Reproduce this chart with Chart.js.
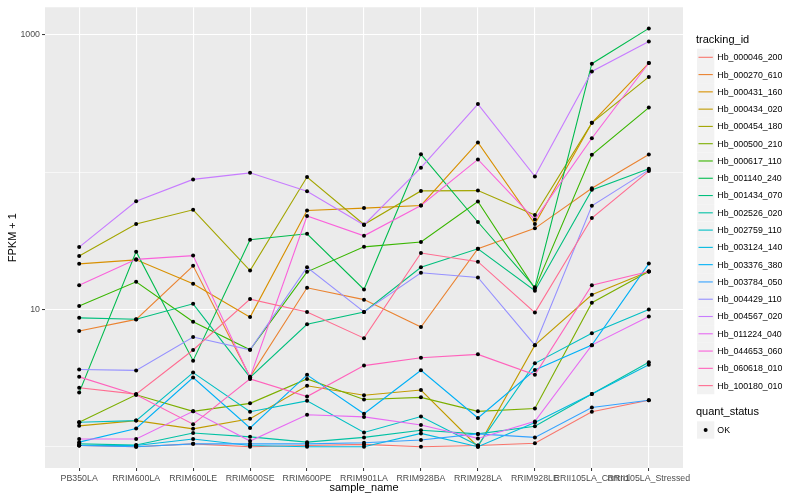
<!DOCTYPE html>
<html>
<head>
<meta charset="utf-8">
<title>FPKM by sample</title>
<script src="https://cdn.jsdelivr.net/npm/chart.js@4.4.1/dist/chart.umd.min.js"></script>
<style>
  html, body { margin: 0; padding: 0; background: #fff; }
  #chart { display: block; }
</style>
</head>
<body>
<canvas id="chart" width="800" height="500"></canvas>
<script>
// Samples on the x axis
const categories = ['PB350LA', 'RRIM600LA', 'RRIM600LE', 'RRIM600SE', 'RRIM600PE', 'RRIM901LA',
    'RRIM928BA', 'RRIM928LA', 'RRIM928LE', 'RRII105LA_Control', 'RRII105LA_Stressed'];

const trackingIds = ['Hb_000046_200', 'Hb_000270_610', 'Hb_000431_160', 'Hb_000434_020', 'Hb_000454_180',
    'Hb_000500_210', 'Hb_000617_110', 'Hb_001140_240', 'Hb_001434_070', 'Hb_002526_020',
    'Hb_002759_110', 'Hb_003124_140', 'Hb_003376_380', 'Hb_003784_050', 'Hb_004429_110',
    'Hb_004567_020', 'Hb_011224_040', 'Hb_044653_060', 'Hb_060618_010', 'Hb_100180_010'];

// FPKM + 1 per gene, one value per sample
const hb000046_200 = [1.02, 1.0, 1.05, 1.0, 1.02, 1.04, 1.0, 1.02, 1.06, 1.8, 2.18];
const hb000270_610 = [6.97, 8.47, 20.8, 3.23, 14.4, 11.8, 7.45, 27.7, 39, 76.4, 134.5];
const hb000431_160 = [21.5, 23, 15.4, 8.8, 52.7, 54.8, 57.3, 165, 42, 229, 625];
const hb000434_020 = [1.42, 1.55, 1.35, 1.6, 2.78, 2.37, 2.59, 1.0, 5.5, 12.8, 18.9];
const hb000454_180 = [24.5, 42, 53.3, 19.2, 92.3, 41.6, 73.1, 73.5, 48.8, 229, 495];
const hb000500_210 = [1.51, 2.39, 1.81, 2.07, 3.12, 2.21, 2.29, 1.81, 1.9, 11.2, 18.9];
const hb000617_110 = [10.6, 15.9, 8.15, 5.08, 18.8, 28.6, 31, 61.2, 14.2, 134, 296];
const hb001140_240 = [2.48, 26.4, 4.24, 32.2, 35.6, 14, 135, 43.4, 14.5, 618, 1117];
const hb001434_070 = [8.69, 8.5, 11.0, 3.2, 7.8, 9.6, 20.3, 27.7, 13.7, 74.4, 106];
const hb002526_020 = [1.05, 1.03, 1.26, 1.18, 1.08, 1.17, 1.32, 1.24, 1.41, 2.42, 4.12];
const hb002759_110 = [1.51, 1.55, 3.47, 1.8, 2.16, 1.27, 1.66, 1.02, 4.05, 6.71, 10];
const hb003124_140 = [1.02, 1.02, 1.14, 1.02, 1.0, 1.0, 1.25, 1.0, 1.5, 2.42, 3.95];
const hb003376_380 = [1.08, 1.36, 3.19, 1.37, 3.34, 1.74, 3.61, 1.62, 3.62, 5.5, 21.6];
const hb003784_050 = [1.02, 1.0, 1.05, 1.05, 1.05, 1.07, 1.12, 1.24, 1.17, 1.93, 2.18];
const hb004429_110 = [3.65, 3.6, 6.3, 5.08, 20.3, 9.6, 18.5, 17.1, 5.5, 57, 104];
const hb004567_020 = [28.5, 61.5, 88.7, 99, 72.6, 41.3, 108, 314, 93.3, 543, 895];
const hb011224_040 = [1.14, 1.14, 1.81, 1.1, 1.71, 1.65, 1.44, 1.15, 1.53, 5.5, 8.9];
const hb044653_060 = [15, 23.2, 24.7, 3.2, 48, 34.4, 57.3, 124, 45.2, 177, 625];
const hb060618_010 = [3.23, 2.39, 1.46, 3.12, 2.32, 3.9, 4.45, 4.71, 3.34, 15, 18.9];
const hb100180_010 = [2.69, 2.42, 5.07, 11.9, 9.6, 6.18, 25.8, 22.3, 9.5, 46.4, 102];

const seriesValues = [hb000046_200, hb000270_610, hb000431_160, hb000434_020, hb000454_180,
    hb000500_210, hb000617_110, hb001140_240, hb001434_070, hb002526_020,
    hb002759_110, hb003124_140, hb003376_380, hb003784_050, hb004429_110,
    hb004567_020, hb011224_040, hb044653_060, hb060618_010, hb100180_010];

// y axis: where grid lines go, and which of them get a label
const yTicks = [1, 10, 100, 1000];
const yLabeled = [10, 1000];

// default ggplot hue palette for 20 groups
const palette = ['#F8766D', '#EA8331', '#D89000', '#C09B00', '#A3A500', '#7CAE00', '#39B600', '#00BB4E',
    '#00BF7D', '#00C1A3', '#00BFC4', '#00BAE0', '#00B0F6', '#35A2FF', '#9590FF', '#C77CFF',
    '#E76BF3', '#FA62DB', '#FF62BC', '#FF6C91'];

const FONT = '"Liberation Sans", Arial, sans-serif';
const PANEL_BG = '#EBEBEB';

const datasets = trackingIds.map((id, i) => ({
    label: id,
    data: seriesValues[i].map((v, j) => ({ x: j, y: v })),
    borderColor: palette[i],
    backgroundColor: palette[i],
    borderWidth: 1.1,
    pointRadius: 0,
    tension: 0,
    fill: false,
    order: trackingIds.length - i
}));

// grey panel behind everything
const panelBackground = {
    id: 'panelBackground',
    beforeDraw(chart) {
        const { ctx, chartArea: a } = chart;
        ctx.save();
        ctx.fillStyle = PANEL_BG;
        ctx.fillRect(a.left, a.top, a.right - a.left, a.bottom - a.top);
        ctx.restore();
    }
};

// black points on top of all the lines
const pointsOnTop = {
    id: 'pointsOnTop',
    afterDatasetsDraw(chart) {
        const ctx = chart.ctx;
        ctx.save();
        ctx.fillStyle = '#000';
        chart.data.datasets.forEach((ds, i) => {
            chart.getDatasetMeta(i).data.forEach(pt => {
                ctx.beginPath();
                ctx.arc(pt.x, pt.y, 2, 0, Math.PI * 2);
                ctx.fill();
            });
        });
        ctx.restore();
    }
};

// axis titles and the two legends on the right
const titlesAndLegend = {
    id: 'titlesAndLegend',
    afterDraw(chart) {
        const { ctx, chartArea: a } = chart;
        ctx.save();
        ctx.fillStyle = '#000';
        ctx.font = '11px ' + FONT;
        ctx.textBaseline = 'middle';

        ctx.textAlign = 'center';
        ctx.fillText('sample_name', (a.left + a.right) / 2, 488);
        ctx.save();
        ctx.translate(13, (a.top + a.bottom) / 2);
        ctx.rotate(-Math.PI / 2);
        ctx.fillText('FPKM + 1', 0, 0);
        ctx.restore();

        const lx = 696;
        const keyW = 17.3;
        const step = 17.28;
        ctx.textAlign = 'left';
        ctx.fillText('tracking_id', lx, 40);

        chart.data.datasets.forEach((ds, i) => {
            const cy = 57.3 + step * i;
            ctx.fillStyle = '#F2F2F2';
            ctx.fillRect(lx + 1, cy - keyW / 2, keyW, keyW);
            ctx.strokeStyle = ds.borderColor;
            ctx.lineWidth = 1.1;
            ctx.beginPath();
            ctx.moveTo(lx + 2.5, cy);
            ctx.lineTo(lx + keyW - 0.5, cy);
            ctx.stroke();
            ctx.fillStyle = '#000';
            ctx.font = '8.8px ' + FONT;
            ctx.fillText(ds.label, lx + keyW + 4, cy + 0.5);
        });

        ctx.font = '11px ' + FONT;
        ctx.fillText('quant_status', lx, 411.5);
        const okY = 430;
        ctx.fillStyle = '#F2F2F2';
        ctx.fillRect(lx + 1, okY - keyW / 2, keyW, keyW);
        ctx.fillStyle = '#000';
        ctx.beginPath();
        ctx.arc(lx + 1 + keyW / 2, okY, 2, 0, Math.PI * 2);
        ctx.fill();
        ctx.font = '8.8px ' + FONT;
        ctx.fillText('OK', lx + keyW + 4, okY + 0.5);
        ctx.restore();
    }
};

const tickFont = { family: FONT, size: 8.8 };

new Chart(document.getElementById('chart'), {
    type: 'line',
    data: { datasets },
    options: {
        responsive: false,
        animation: false,
        events: [],
        layout: { padding: { left: 0, right: 117, top: 5, bottom: 0 } },
        plugins: {
            legend: { display: false },
            tooltip: { enabled: false }
        },
        scales: {
            x: {
                type: 'linear',
                min: -0.6,
                max: 10.6,
                afterBuildTicks: scale => {
                    scale.ticks = categories.map((c, i) => ({ value: i }));
                },
                afterFit: scale => { scale.height = 32; },
                ticks: {
                    callback: v => categories[v],
                    autoSkip: false,
                    maxRotation: 0,
                    minRotation: 0,
                    padding: 2,
                    color: '#4D4D4D',
                    font: tickFont
                },
                grid: {
                    color: '#FFFFFF',
                    lineWidth: 1.1,
                    tickLength: 3,
                    tickColor: '#333333',
                    tickWidth: 1
                },
                border: { display: false }
            },
            y: {
                type: 'logarithmic',
                min: 0.723,
                max: 1592,
                afterBuildTicks: scale => {
                    scale.ticks = yTicks.map(v => ({ value: v }));
                },
                afterFit: scale => { scale.width = 45; },
                ticks: {
                    callback: v => (yLabeled.includes(v) ? String(v) : ''),
                    padding: 2,
                    color: '#4D4D4D',
                    font: tickFont
                },
                grid: {
                    color: '#FFFFFF',
                    lineWidth: ctx => (yLabeled.includes(ctx.tick && ctx.tick.value) ? 1.1 : 0.6),
                    tickLength: 3,
                    tickColor: ctx => (yLabeled.includes(ctx.tick && ctx.tick.value) ? '#333333' : 'rgba(0,0,0,0)'),
                    tickWidth: 1
                },
                border: { display: false }
            }
        }
    },
    plugins: [panelBackground, pointsOnTop, titlesAndLegend]
});
</script>
</body>
</html>
